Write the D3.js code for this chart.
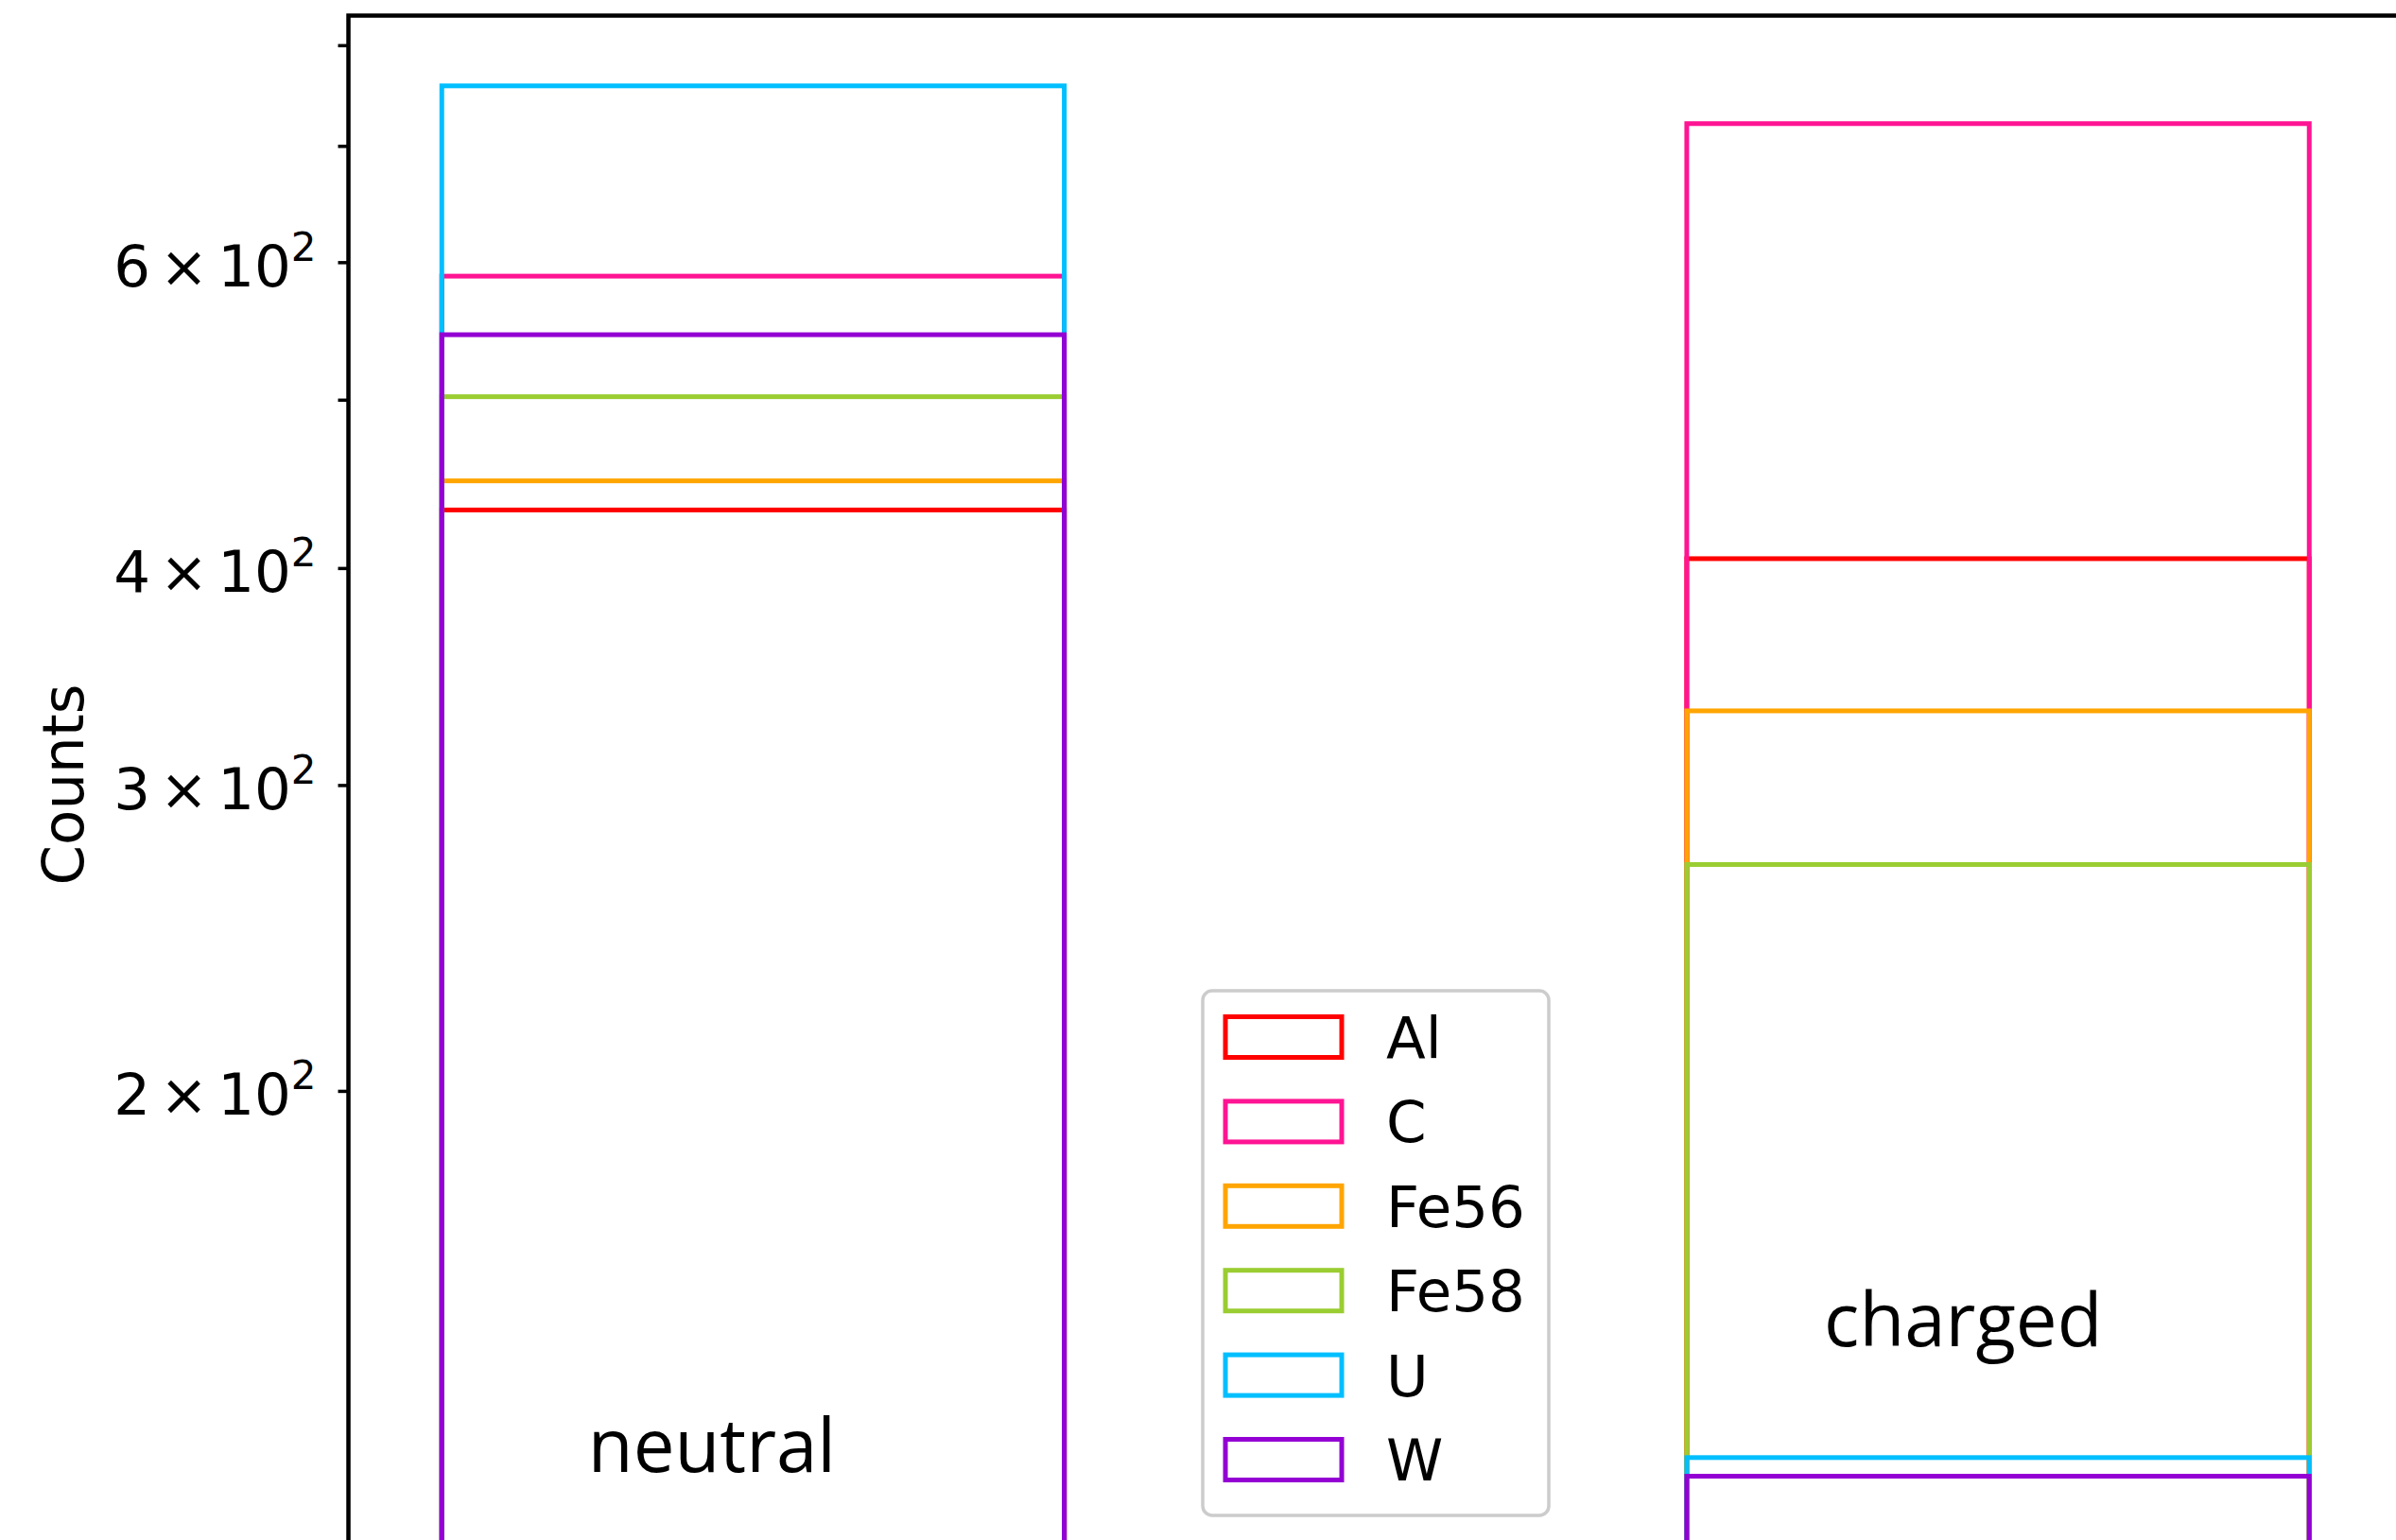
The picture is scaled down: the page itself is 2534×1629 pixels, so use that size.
<!DOCTYPE html>
<html>
<head>
<meta charset="utf-8">
<script src="https://cdn.jsdelivr.net/npm/d3@7"></script>
<style>
  html, body { margin: 0; padding: 0; background: #ffffff; }
  svg { display: block; }
</style>
</head>
<body>
<svg id="canvas" width="2534" height="1629"></svg>
<script>
const groups = ['neutral', 'charged'];
const elements = ['Al', 'C', 'Fe56', 'Fe58', 'U', 'W'];
const neutralCounts = [432, 589, 449, 502, 758, 545];
const chargedCounts = [405, 721, 331, 270, 123, 120];
const elementColors = ['#ff0000', '#ff1493', '#ffa500', '#9acd32', '#00bfff', '#9400d3'];
const majorTicks = [200, 300, 400, 600];
const minorTicks = [500, 700, 800];
const majorTickLabels = ['2', '3', '4', '6'];

const countsByGroup = [neutralCounts, chargedCounts];

const canvas = d3.select('#canvas');

// plot box: the reference is cropped, bottom and right spines fall outside
const plotLeft = 368.5;
const plotRight = 2541;
const plotTop = 16.5;
const plotBottom = 1707;

const xScale = d3.scaleLinear().domain([-0.325, 1.325]).range([plotLeft, plotRight]);
const yScale = d3.scaleLog().domain([100, 832]).range([plotBottom, plotTop]);

const barWidth = 0.5;
const tickFont = 'DejaVu Sans, sans-serif';

canvas
  .append('defs')
  .append('clipPath')
  .attr('id', 'plot-clip')
  .append('rect')
  .attr('x', plotLeft)
  .attr('y', plotTop)
  .attr('width', plotRight - plotLeft)
  .attr('height', plotBottom - plotTop);

// bars: one outlined rect per element, drawn on top of each other
const bars = [];
groups.forEach((group, gi) => {
  elements.forEach((el, ei) => {
    bars.push({ group: gi, element: ei, value: countsByGroup[gi][ei] });
  });
});

canvas
  .append('g')
  .attr('clip-path', 'url(#plot-clip)')
  .selectAll('rect')
  .data(bars)
  .enter()
  .append('rect')
  .attr('x', (d) => xScale(d.group - barWidth / 2))
  .attr('width', (d) => xScale(d.group + barWidth / 2) - xScale(d.group - barWidth / 2))
  .attr('y', (d) => yScale(d.value))
  .attr('height', (d) => plotBottom + 20 - yScale(d.value))
  .attr('fill', 'none')
  .attr('stroke', (d) => elementColors[d.element])
  .attr('stroke-width', 5);

// group annotations
const notes = [
  { text: groups[0], x: -0.033, y: 120.7 },
  { text: groups[1], x: 0.972, y: 142.5 }
];

canvas
  .append('g')
  .selectAll('text')
  .data(notes)
  .enter()
  .append('text')
  .attr('x', (d) => xScale(d.x))
  .attr('y', (d) => yScale(d.y))
  .attr('text-anchor', 'middle')
  .attr('font-family', 'Open Sans, sans-serif')
  .attr('font-size', 78)
  .attr('fill', '#000000')
  .text((d) => d.text);

// y axis
const yAxis = d3
  .axisLeft(yScale)
  .tickValues(majorTicks.concat(minorTicks))
  .tickSize(11)
  .tickPadding(23)
  .tickFormat('');

const axisGroup = canvas
  .append('g')
  .attr('transform', 'translate(' + plotLeft + ',0)')
  .call(yAxis);

axisGroup.select('.domain').remove();
axisGroup.selectAll('.tick line').attr('stroke', '#000000').attr('stroke-width', 3.5);

axisGroup
  .selectAll('.tick text')
  .attr('dy', null)
  .attr('y', 25)
  .attr('font-family', tickFont)
  .attr('font-size', 61)
  .attr('fill', '#000000')
  .each(function (value) {
    const idx = majorTicks.indexOf(value);
    if (idx < 0) return;
    const label = d3.select(this);
    label.append('tspan').text(majorTickLabels[idx]);
    label.append('tspan').attr('dx', 10).text('\u00d7');
    label.append('tspan').attr('dx', 10).text('10');
    label.append('tspan').attr('dy', -27).attr('font-size', 42).text('2');
  });

canvas
  .append('text')
  .attr('transform', 'translate(88, 830) rotate(-90)')
  .attr('text-anchor', 'middle')
  .attr('font-family', tickFont)
  .attr('font-size', 61)
  .attr('fill', '#000000')
  .text('Counts');

// spines (left and top visible in the crop)
canvas
  .append('path')
  .attr('d', 'M' + plotLeft + ',' + plotBottom + 'V' + plotTop + 'H' + plotRight)
  .attr('fill', 'none')
  .attr('stroke', '#000000')
  .attr('stroke-width', 4.5)
  .attr('stroke-linecap', 'square');

// legend
const legendRow = d3.scalePoint().domain(elements).range([1097, 1544]);

const legend = canvas.append('g');

legend
  .append('rect')
  .attr('x', 1272)
  .attr('y', 1048)
  .attr('width', 366)
  .attr('height', 555)
  .attr('rx', 10)
  .attr('fill', '#ffffff')
  .attr('fill-opacity', 0.8)
  .attr('stroke', '#cccccc')
  .attr('stroke-width', 3.5);

const legendItem = legend
  .selectAll('g.item')
  .data(elements)
  .enter()
  .append('g')
  .attr('class', 'item')
  .attr('transform', (el) => 'translate(0,' + legendRow(el) + ')');

legendItem
  .append('rect')
  .attr('x', 1296)
  .attr('y', -21.5)
  .attr('width', 123)
  .attr('height', 43)
  .attr('fill', 'none')
  .attr('stroke', (el, i) => elementColors[i])
  .attr('stroke-width', 5);

legendItem
  .append('text')
  .attr('x', 1466)
  .attr('y', 22)
  .attr('font-family', tickFont)
  .attr('font-size', 61)
  .attr('fill', '#000000')
  .text((el) => el);
</script>
</body>
</html>
